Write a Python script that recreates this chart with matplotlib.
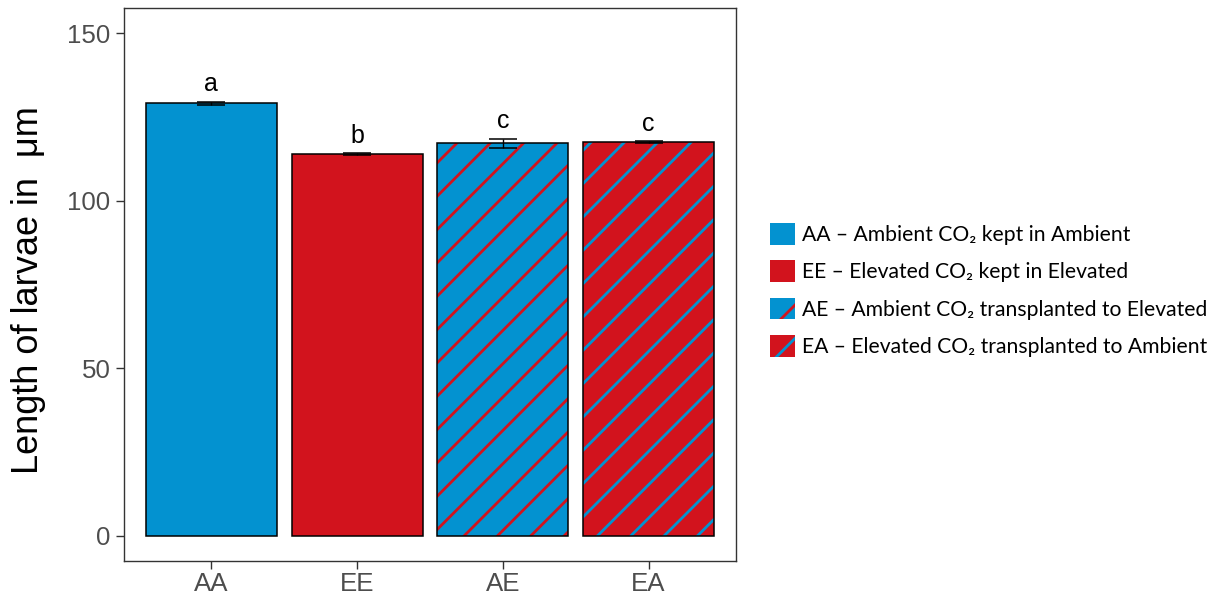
import matplotlib
matplotlib.use("Agg")
import matplotlib.pyplot as plt
from matplotlib.patches import Patch

groups = ["AA", "EE", "AE", "EA"]
means = [129.1, 113.9, 117.2, 117.5]
errors = [0.5, 0.2, 1.35, 0.2]
letters = ["a", "b", "c", "c"]
legend_labels = [
    "AA \u2013 Ambient CO\u2082 kept in Ambient",
    "EE \u2013 Elevated CO\u2082 kept in Elevated",
    "AE \u2013 Ambient CO\u2082 transplanted to Elevated",
    "EA \u2013 Elevated CO\u2082 transplanted to Ambient",
]
yticks = [0, 50, 100, 150]

BLUE = "#0392d0"
RED = "#d2131d"
face = [BLUE, RED, BLUE, RED]
hatchcol = [None, None, RED, BLUE]

DPI = 200
plt.rcParams["hatch.linewidth"] = 1.0
fig = plt.figure(figsize=(1219 / DPI, 605 / DPI), dpi=DPI)
ax = fig.add_axes([124 / 1219, 1 - 561 / 605, (736 - 124) / 1219, (561 - 8) / 605])

x = list(range(1, len(groups) + 1))
for xi, m, fc, hc in zip(x, means, face, hatchcol):
    if hc is None:
        ax.bar(xi, m, width=0.9, color=fc, edgecolor="black", linewidth=0.55, zorder=2)
    else:
        ax.bar(xi, m, width=0.9, color=fc, edgecolor=hc, hatch="//", linewidth=0, zorder=2)
        ax.bar(xi, m, width=0.9, fill=False, edgecolor="black", linewidth=0.55, zorder=3)

ax.errorbar(x, means, yerr=errors, fmt="none", ecolor="black", elinewidth=0.5,
            capsize=4.9, capthick=0.55, zorder=4)

for xi, m, e, lab in zip(x, means, errors, letters):
    ax.text(xi, m + e + 3.2, lab, ha="center", va="baseline", fontsize=9,
            family="Liberation Sans", color="black")

ax.set_xlim(0.4, 4.6)
ax.set_ylim(-7.5, 157.5)
ax.set_xticks(x)
ax.set_xticklabels(groups)
ax.set_yticks(yticks)
for lab in ax.get_xticklabels() + ax.get_yticklabels():
    lab.set_family("Liberation Sans")
    lab.set_fontsize(9.3)
    lab.set_color("#4d4d4d")
ax.tick_params(axis="both", length=2.9, width=0.5, color="#333333")
ax.tick_params(axis="x", pad=1.2)
ax.tick_params(axis="y", pad=2.0)
for s in ax.spines.values():
    s.set_color("#333333")
    s.set_linewidth(0.5)

ax.set_ylabel("Length of larvae in  \u03bcm", fontsize=13, family="Liberation Sans")
ax.yaxis.set_label_coords(-0.128, 0.49)

handles = []
for fc, hc in zip(face, hatchcol):
    if hc is None:
        handles.append(Patch(facecolor=fc, edgecolor=fc, linewidth=0))
    else:
        handles.append(Patch(facecolor=fc, edgecolor=hc, hatch="//", linewidth=0))
fig.legend(handles, legend_labels, loc="center left",
           bbox_to_anchor=(755 / 1219, 1 - 290 / 605), frameon=False,
           prop={"family": ["Lato", "DejaVu Sans"], "size": 7.6},
           handlelength=1.2, handleheight=1.2, labelspacing=0.73,
           handletextpad=0.35, borderpad=0.2)

fig.savefig("out.png", dpi=DPI)
